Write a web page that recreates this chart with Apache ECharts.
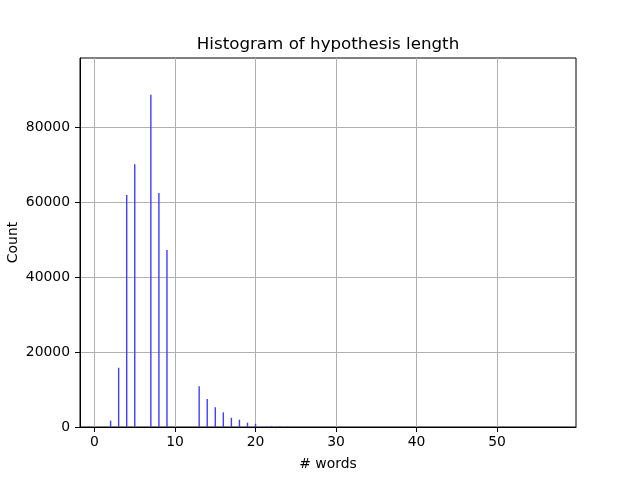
<!DOCTYPE html>
<html>
<head>
<meta charset="utf-8">
<script src="https://cdn.jsdelivr.net/npm/echarts@6/dist/echarts.min.js"></script>
<style>
  html, body { margin: 0; padding: 0; background: #fff; }
  #chart { width: 640px; height: 480px; }
</style>
</head>
<body>
<div id="chart"></div>
<script>
// histogram bins (number of words) and their counts
var words  = [2, 3, 4, 5, 7, 8, 9, 13, 14, 15, 16, 17, 18, 19, 20, 22, 23, 24];
var counts = [1700, 15800, 61900, 70100, 88600, 62400, 47200, 10900, 7500, 5300, 3900, 2450, 1950, 1150, 850, 250, 200, 150];
var xTicks = [0, 10, 20, 30, 40, 50];
var yTicks = [0, 20000, 40000, 60000, 80000];

var font = 'DejaVu Sans';
var chart = echarts.init(document.getElementById('chart'));

var pairs = words.map(function(w, i){ return [w, counts[i]]; });

//细柱子，自己画矩形，避免bar系列扩展坐标轴范围
function renderBar(params, api){
	var base = api.coord([api.value(0), 0]);
	var top = api.coord([api.value(0), api.value(1)]);
	return {
		type: 'rect',
		shape: { x: base[0] - 0.7, y: top[1], width: 1.4, height: base[1] - top[1] },
		style: { fill: '#3f3fff' }
	};
}

chart.setOption({
	animation: false,
	backgroundColor: '#fff',
	title: {
		text: 'Histogram of hypothesis length',
		left: 323,
		textAlign: 'center',
		top: 31,
		textStyle: { fontFamily: font, fontSize: 16.7, fontWeight: 'normal', color: '#000' }
	},
	grid: {
		left: 80, right: 64, top: 58, bottom: 53,
		containLabel: false,
		outerBoundsMode: 'none',
		show: true, borderColor: '#000', borderWidth: 1
	},
	xAxis: {
		type: 'value',
		min: -1.8,
		max: 59.8,
		name: '# words',
		nameLocation: 'middle',
		nameGap: 30,
		nameMoveOverlap: false,
		nameTextStyle: { fontFamily: font, fontSize: 13.9, color: '#000' },
		axisLine: { show: true, onZero: false, lineStyle: { color: '#000', width: 1 } },
		axisTick: { show: true, length: 5, customValues: xTicks, lineStyle: { color: '#000' } },
		axisLabel: { customValues: xTicks, margin: 8, fontFamily: font, fontSize: 13.9, color: '#000' },
		splitLine: { show: true, customValues: xTicks, lineStyle: { color: '#b0b0b0', width: 1 } }
	},
	yAxis: {
		type: 'value',
		min: 0,
		max: 98400,
		name: 'Count',
		nameLocation: 'middle',
		nameGap: 60,
		nameMoveOverlap: false,
		nameTextStyle: { fontFamily: font, fontSize: 13.9, color: '#000' },
		axisLine: { show: true, onZero: false, lineStyle: { color: '#000', width: 1 } },
		axisTick: { show: true, length: 5, customValues: yTicks, lineStyle: { color: '#000' } },
		axisLabel: {
			customValues: yTicks, margin: 10, fontFamily: font, fontSize: 13.9, color: '#000',
			formatter: function(v){ return String(v); }
		},
		splitLine: { show: true, customValues: yTicks, lineStyle: { color: '#b0b0b0', width: 1 } }
	},
	series: [
		{
			type: 'custom',
			renderItem: renderBar,
			encode: { x: 0, y: 1 },
			data: pairs
		}
	]
});
</script>
</body>
</html>
